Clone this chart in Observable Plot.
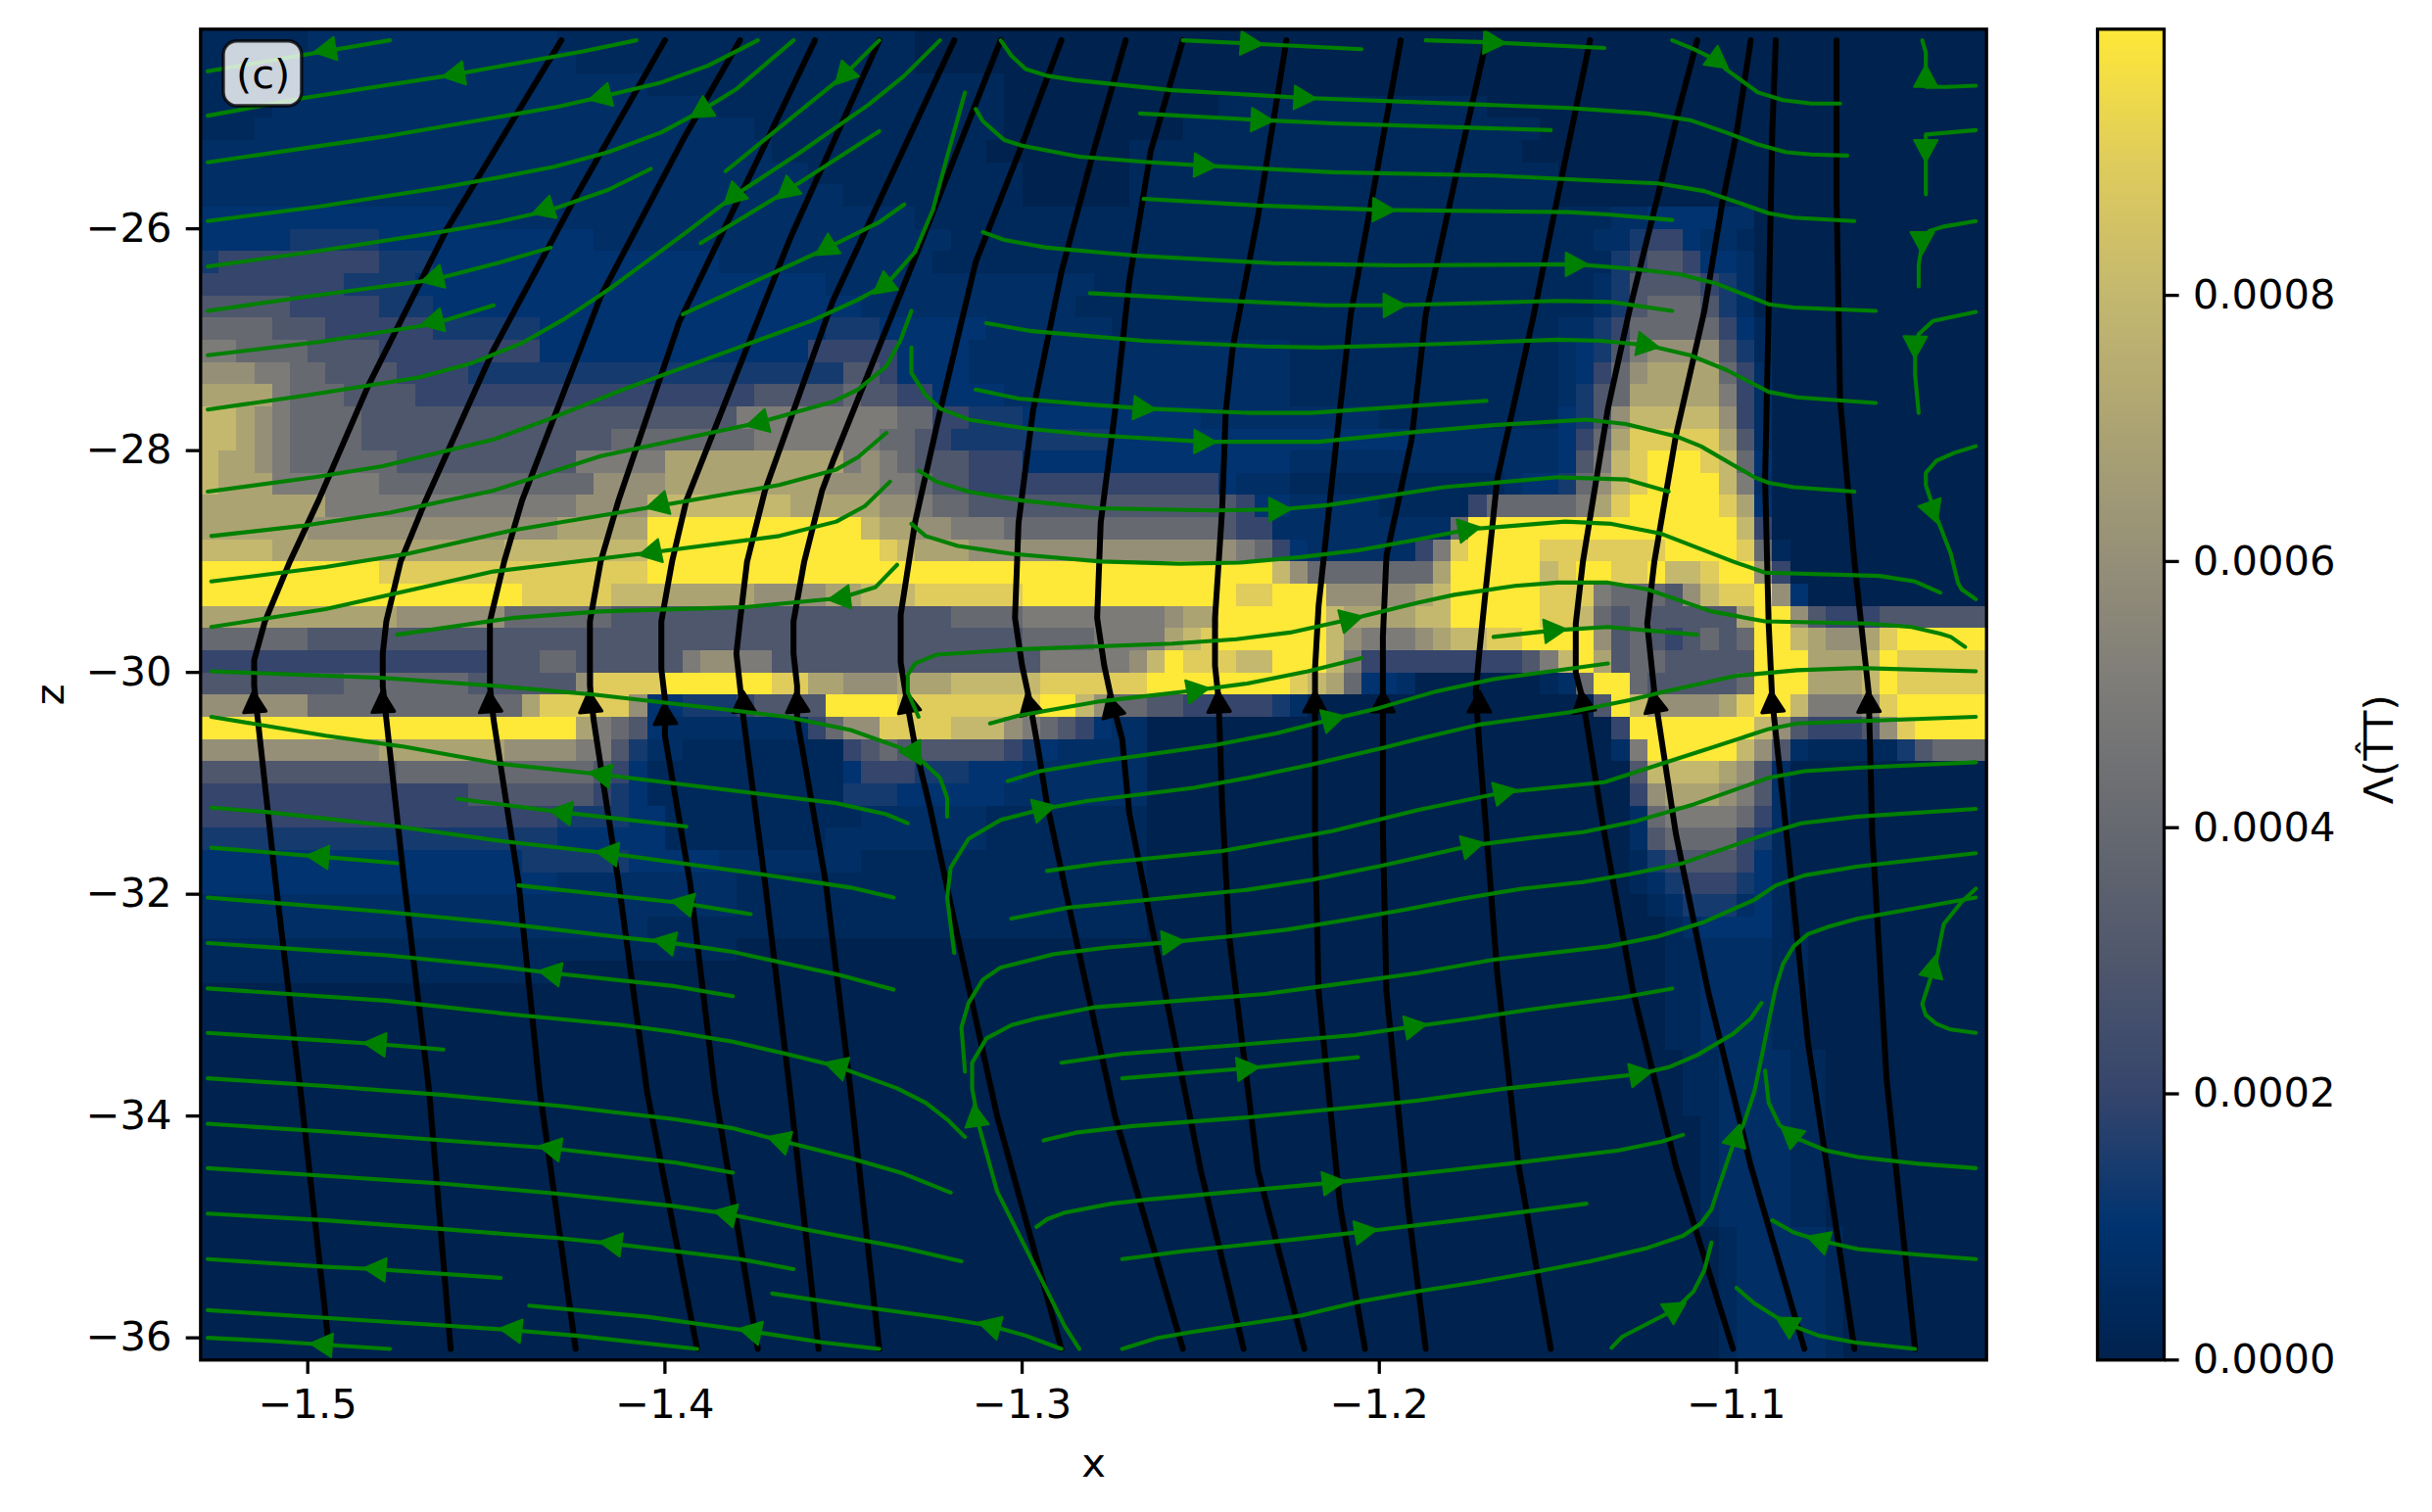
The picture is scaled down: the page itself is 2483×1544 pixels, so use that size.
<!DOCTYPE html>
<html>
<head>
<meta charset="utf-8">
<script src="https://cdn.jsdelivr.net/npm/d3@7"></script>
<script src="https://cdn.jsdelivr.net/npm/@observablehq/plot@0.6"></script>
<style>
html,body{margin:0;padding:0;background:#fff;}
#fig{position:relative;width:2483px;height:1544px;overflow:hidden;}
#fig svg{position:absolute;top:0;}
</style>
</head>
<body>
<div id="fig"></div>
<script>
// Axis extents and ticks
const xExtent = [-1.53, -1.03];
const zExtent = [-36.2, -24.2];
const xTicks = [-1.5, -1.4, -1.3, -1.2, -1.1];
const zTicks = [-26, -28, -30, -32, -34, -36];
const barTicks = [0, 0.0002, 0.0004, 0.0006, 0.0008];
const barMax = 0.001;

// Colour stops of the scale
const stopValues = [0, .0001, .0002, .0003, .0004, .0005, .0006, .0007, .0008, .0009, .001];
const stopColors = ["#00224e", "#00336f", "#35456c", "#4f576c", "#666970", "#7c7b78", "#958f78", "#aca373", "#c4b86f", "#dfcc5c", "#fee838"];

// Heat values as read, one run-length row per z step (first char = level, rest = run of cells)
const levelValues = {"0":0, a:.00004, b:.00007, c:.0001, "1":.00014, "2":.0002, "3":.0003, "4":.0004, "5":.0005, "6":.0006, "7":.0007, "8":.0008, "9":.0009, A:.001};
const heatRows = [
"a6 b14 a20 060",
"a5 b16 a19 060",
"a5 b20 a20 055",
"a4 b24 a17 012 a15 028",
"a3 b28 a14 010 a20 025",
"b32 a12 08 a22 026",
"b34 a12 06 a24 024",
"b36 a10 06 a24 024",
"c14 b26 a36 a3 b2 c4 b2 013",
"c5 15 c12 b20 a36 b2 11 22 c1 b2 a1 013",
"11 29 13 c16 b12 a38 11 21 32 21 c2 b1 013",
"28 14 c23 b15 a28 b1 11 34 21 11 b1 013",
"35 25 13 c24 b12 a28 a1 b1 11 31 43 31 11 b1 013",
"44 33 26 16 c16 13 c6 b7 a25 b2 11 21 45 21 c1 a1 012",
"52 44 34 29 c15 25 c4 b18 a15 b1 c1 11 31 51 64 31 11 a1 012",
"63 52 42 34 24 121 32 21 c4 b18 a15 b1 c1 21 41 61 74 41 21 b1 012",
"74 51 43 34 219 35 41 32 22 c4 b16 a15 b1 11 31 41 75 51 21 b1 012",
"82 71 61 51 44 321 59 42 22 13 c10 b10 a10 c1 11 31 61 85 61 21 b1 012",
"82 71 61 51 44 314 48 57 42 31 21 19 c17 b8 c1 21 41 71 95 71 31 b1 012",
"81 72 61 51 46 310 55 710 51 61 51 41 33 23 c15 b15 c1 31 51 81 91 A3 91 81 41 c1 012",
"81 73 56 412 64 79 63 52 41 32 214 c1 b3 a12 b1 c2 11 41 61 81 91 A4 81 51 b1 012",
"77 514 64 88 75 62 51 42 315 21 c2 b5 a5 21 45 51 71 91 A5 91 71 c1 012",
"76 614 75 A12 81 72 62 53 412 31 22 b10 41 A15 81 21 012",
"84 713 88 A13 91 81 73 615 51 41 21 c1 b6 21 51 91 A4 97 A4 91 41 a1 011",
"A10 915 A35 81 61 47 71 A5 81 91 A2 92 A1 82 91 A2 61 21 011",
"A18 95 83 75 64 72 83 96 A12 92 A3 65 71 81 A5 93 51 43 31 61 81 92 A1 61 c1 010",
"711 66 46 314 35 44 58 61 72 A6 81 74 82 A5 92 81 41 31 41 35 71 A2 61 31 23 36",
"46 340 44 54 71 81 91 A6 81 61 53 61 71 82 92 A4 61 31 41 31 21 31 41 31 41 A2 81 71 62 71 91 A5",
"216 33 42 36 51 62 52 315 55 61 81 A1 93 82 A3 81 51 29 31 51 81 A1 71 31 42 35 A3 73 81 A1 95",
"38 47 36 61 94 A6 92 72 63 73 85 96 A8 91 81 71 41 c2 b1 07 a1 b1 41 A2 41 35 41 A3 73 81 A1 95",
"66 412 71 95 61 c2 13 21 34 A4 98 A2 81 61 42 32 25 11 b1 016 31 A1 81 64 71 91 A2 81 53 61 91 A5",
"A21 71 51 41 31 c1 b8 21 41 62 94 83 61 51 41 31 21 c1 b2 026 21 A7 81 61 31 23 31 61 91 A4",
"610 77 64 52 31 11 b2 a9 21 31 41 36 21 11 c1 b5 026 b1 51 A5 81 61 31 b1 a5 11 31 43",
"311 411 31 21 c1 a11 c1 23 13 c3 b7 027 31 84 71 61 31 b1 011",
"215 37 21 11 c1 a11 13 c6 b8 027 21 61 73 61 51 31 b1 011",
"220 14 c2 a11 b7 a9 027 b1 41 54 41 21 b1 011",
"120 c6 a9 b9 a9 027 b1 31 44 21 11 a1 011",
"c18 16 c5 b8 a16 027 a1 11 21 33 21 c1 a1 011",
"c20 b10 a23 027 a1 b1 11 23 11 c1 a1 011",
"b30 a23 028 a1 b1 13 b1 c1 a1 011",
"b25 a28 029 a1 b1 c4 a1 011",
"a30 052 a2 b4 a2 010",
"a20 062 a2 b4 a2 010",
"082 a2 b4 a2 010",
"082 a2 b4 a2 010",
"082 a2 b4 a2 010",
"083 a2 b4 a2 09",
"083 a2 b4 a2 09",
"083 a2 b4 a2 09",
"084 a1 b4 a2 09",
"084 a1 b4 a2 09",
"084 a1 b4 a2 09",
"084 a1 b4 a2 09",
"084 a1 b4 a2 09",
"085 a1 b5 a1 08",
"085 a1 b5 a1 08",
"085 a1 b5 a1 08",
"085 a1 b5 a1 08",
"085 a1 b5 a1 08",
"085 a1 b5 a1 08"
];
const heatCols = 100;

// Black field lines, as x,z pairs
const fieldLines = [
[-1.429,-24.30,-1.461,-26.00,-1.483,-27.41,-1.497,-28.45,-1.505,-29.00,-1.512,-29.54,-1.515,-29.89,-1.515,-30.12,-1.514,-30.42,-1.509,-31.89,-1.502,-33.78,-1.494,-36.10],
[-1.400,-24.30,-1.426,-25.77,-1.448,-27.09,-1.467,-28.45,-1.474,-29.00,-1.478,-29.54,-1.479,-29.83,-1.479,-30.12,-1.478,-30.42,-1.473,-31.89,-1.466,-33.78,-1.460,-36.10],
[-1.379,-24.30,-1.395,-25.20,-1.418,-26.61,-1.440,-28.45,-1.445,-29.00,-1.449,-29.54,-1.449,-29.83,-1.449,-30.12,-1.448,-30.42,-1.441,-31.89,-1.435,-33.78,-1.425,-36.10],
[-1.358,-24.30,-1.375,-25.44,-1.396,-26.84,-1.413,-28.45,-1.418,-29.00,-1.421,-29.54,-1.421,-29.83,-1.421,-30.12,-1.420,-30.42,-1.413,-31.89,-1.405,-33.78,-1.391,-36.10],
[-1.340,-24.30,-1.365,-26.09,-1.394,-28.45,-1.398,-29.00,-1.401,-29.54,-1.401,-29.83,-1.401,-29.97,-1.400,-30.24,-1.400,-30.57,-1.393,-31.89,-1.386,-33.78,-1.374,-36.10],
[-1.319,-24.30,-1.353,-26.65,-1.372,-28.36,-1.377,-29.00,-1.379,-29.54,-1.380,-29.83,-1.379,-30.12,-1.378,-30.42,-1.372,-31.89,-1.365,-33.78,-1.357,-36.10],
[-1.306,-24.30,-1.329,-26.18,-1.353,-28.10,-1.356,-28.36,-1.361,-29.00,-1.364,-29.54,-1.364,-29.83,-1.363,-30.12,-1.363,-30.42,-1.355,-31.89,-1.348,-33.78,-1.340,-36.10],
[-1.289,-24.30,-1.300,-25.24,-1.313,-26.30,-1.323,-27.65,-1.330,-28.65,-1.334,-29.48,-1.334,-29.91,-1.332,-30.31,-1.330,-30.66,-1.326,-31.19,-1.318,-32.39,-1.307,-34.00,-1.289,-36.10],
[-1.271,-24.30,-1.280,-25.30,-1.289,-26.39,-1.297,-27.65,-1.301,-28.65,-1.302,-29.51,-1.300,-29.94,-1.298,-30.24,-1.296,-30.60,-1.293,-31.19,-1.285,-32.39,-1.274,-34.00,-1.255,-36.10],
[-1.255,-24.30,-1.264,-25.30,-1.270,-26.47,-1.274,-27.65,-1.278,-28.65,-1.279,-29.51,-1.277,-29.94,-1.275,-30.24,-1.272,-30.60,-1.270,-31.27,-1.262,-32.56,-1.250,-34.49,-1.238,-36.10],
[-1.226,-24.30,-1.234,-25.89,-1.241,-27.06,-1.243,-27.65,-1.244,-28.53,-1.246,-29.51,-1.246,-29.94,-1.245,-30.24,-1.244,-31.19,-1.242,-32.39,-1.234,-34.49,-1.221,-36.10],
[-1.194,-24.30,-1.201,-25.54,-1.208,-26.77,-1.212,-27.91,-1.214,-28.50,-1.217,-29.40,-1.218,-29.97,-1.218,-31.45,-1.217,-32.88,-1.211,-34.81,-1.204,-36.10],
[-1.170,-24.30,-1.178,-25.44,-1.187,-26.77,-1.191,-27.91,-1.198,-28.95,-1.199,-29.68,-1.199,-30.21,-1.199,-31.45,-1.198,-32.88,-1.192,-34.81,-1.187,-36.10],
[-1.141,-24.30,-1.150,-25.70,-1.157,-26.81,-1.167,-28.26,-1.170,-29.19,-1.172,-29.82,-1.173,-30.18,-1.172,-30.66,-1.170,-31.45,-1.167,-32.71,-1.161,-34.45,-1.152,-36.10],
[-1.111,-24.30,-1.117,-25.03,-1.122,-25.70,-1.130,-26.74,-1.136,-27.62,-1.143,-29.00,-1.145,-29.56,-1.145,-30.00,-1.143,-30.25,-1.137,-31.45,-1.129,-32.87,-1.117,-34.45,-1.101,-36.10],
[-1.096,-24.30,-1.100,-25.14,-1.104,-25.77,-1.109,-26.74,-1.117,-27.87,-1.123,-29.00,-1.125,-29.56,-1.123,-30.18,-1.117,-31.45,-1.108,-32.87,-1.096,-34.45,-1.081,-36.10],
[-1.089,-24.30,-1.090,-25.14,-1.091,-26.74,-1.092,-28.26,-1.091,-29.56,-1.090,-30.25,-1.086,-31.45,-1.080,-33.34,-1.074,-34.60,-1.067,-36.10],
[-1.072,-24.30,-1.072,-25.70,-1.071,-27.54,-1.067,-29.00,-1.063,-30.18,-1.062,-31.45,-1.058,-33.66,-1.050,-36.10]
];
// Black arrows: x, z, heading in degrees (0 = up)
const fieldArrows = [
[-1.515,-30.27,-4],[-1.479,-30.27,-3],[-1.449,-30.27,-4],[-1.421,-30.27,-5],[-1.400,-30.38,-3],[-1.378,-30.27,-3],[-1.363,-30.27,-4],[-1.332,-30.27,-10],[-1.298,-30.29,-13],[-1.275,-30.31,-15],[-1.245,-30.27,-3],[-1.218,-30.27,0],[-1.199,-30.27,0],[-1.172,-30.27,0],[-1.143,-30.27,-9],[-1.123,-30.27,-10],[-1.090,-30.27,-5],[-1.063,-30.27,-2]
];

// Green flow lines, as x,z pairs
const flowLines = [
[-1.477,-24.30,-1.497,-24.41,-1.528,-24.58],
[-1.408,-24.30,-1.423,-24.40,-1.461,-24.62,-1.501,-24.82,-1.528,-24.98],
[-1.374,-24.30,-1.388,-24.53,-1.401,-24.68,-1.418,-24.81,-1.430,-24.90,-1.479,-25.17,-1.528,-25.40],
[-1.364,-24.30,-1.380,-24.74,-1.390,-24.94,-1.401,-25.13,-1.416,-25.31,-1.431,-25.44,-1.447,-25.54,-1.463,-25.63,-1.497,-25.80,-1.528,-25.93],
[-1.404,-25.46,-1.416,-25.65,-1.432,-25.83,-1.447,-25.94,-1.463,-26.03,-1.497,-26.20,-1.528,-26.34],
[-1.432,-26.17,-1.447,-26.31,-1.465,-26.46,-1.500,-26.61,-1.528,-26.74],
[-1.448,-26.69,-1.465,-26.86,-1.497,-27.02,-1.528,-27.14],
[-1.323,-24.30,-1.333,-24.62,-1.343,-24.88,-1.363,-25.33,-1.381,-25.71,-1.394,-26.03,-1.415,-26.53,-1.428,-26.81,-1.440,-27.03,-1.454,-27.21,-1.469,-27.34,-1.500,-27.50,-1.528,-27.63],
[-1.340,-24.30,-1.350,-24.62,-1.383,-25.48],
[-1.340,-25.12,-1.366,-25.66,-1.390,-26.13],
[-1.333,-25.78,-1.340,-25.94,-1.355,-26.18,-1.395,-26.77],
[-1.316,-24.77,-1.321,-25.35,-1.325,-25.83,-1.330,-26.21,-1.338,-26.50,-1.346,-26.64,-1.359,-26.83,-1.376,-27.03,-1.411,-27.44,-1.432,-27.71,-1.448,-27.90,-1.479,-28.14,-1.498,-28.24,-1.528,-28.37],
[-1.331,-26.74,-1.334,-27.00,-1.338,-27.24,-1.346,-27.45,-1.353,-27.56,-1.374,-27.75,-1.418,-28.05,-1.448,-28.36,-1.477,-28.56,-1.502,-28.68,-1.527,-28.77],
[-1.338,-27.84,-1.346,-28.06,-1.352,-28.17,-1.368,-28.31,-1.404,-28.51,-1.443,-28.72,-1.472,-28.93,-1.495,-29.05,-1.527,-29.18],
[-1.337,-28.28,-1.344,-28.50,-1.352,-28.64,-1.368,-28.77,-1.404,-28.92,-1.448,-29.09,-1.473,-29.27,-1.495,-29.43,-1.527,-29.59],
[-1.335,-29.03,-1.341,-29.23,-1.351,-29.33,-1.377,-29.41,-1.418,-29.45,-1.443,-29.51,-1.475,-29.66],
[-1.321,-31.30,-1.321,-31.13,-1.323,-30.95,-1.328,-30.80,-1.334,-30.68,-1.348,-30.52,-1.366,-30.40,-1.379,-30.35,-1.420,-30.20,-1.448,-30.12,-1.479,-30.05,-1.527,-29.99],
[-1.332,-31.36,-1.338,-31.28,-1.352,-31.18,-1.385,-31.05,-1.418,-30.92,-1.447,-30.82,-1.473,-30.67,-1.495,-30.57,-1.527,-30.40],
[-1.394,-31.39,-1.429,-31.26,-1.458,-31.14],
[-1.336,-32.03,-1.348,-31.94,-1.373,-31.82,-1.398,-31.71,-1.416,-31.63,-1.446,-31.52,-1.475,-31.39,-1.511,-31.26,-1.527,-31.22],
[-1.475,-31.72,-1.497,-31.66,-1.527,-31.58],
[-1.376,-32.18,-1.395,-32.08,-1.412,-32.02,-1.441,-31.92],
[-1.336,-32.86,-1.351,-32.73,-1.381,-32.52,-1.400,-32.43,-1.412,-32.39,-1.446,-32.26,-1.478,-32.16,-1.528,-32.03],
[-1.381,-32.92,-1.397,-32.83,-1.432,-32.71,-1.447,-32.65,-1.478,-32.55,-1.528,-32.44],
[-1.316,-34.19,-1.321,-34.03,-1.327,-33.88,-1.335,-33.75,-1.352,-33.55,-1.366,-33.44,-1.381,-33.33,-1.398,-33.24,-1.412,-33.18,-1.444,-33.08,-1.478,-32.96,-1.528,-32.85],
[-1.462,-33.40,-1.481,-33.35,-1.495,-33.32,-1.528,-33.25],
[-1.320,-34.69,-1.334,-34.51,-1.348,-34.38,-1.368,-34.22,-1.381,-34.11,-1.397,-34.03,-1.429,-33.91,-1.462,-33.81,-1.495,-33.73,-1.528,-33.66],
[-1.381,-34.51,-1.397,-34.42,-1.432,-34.29,-1.462,-34.22,-1.495,-34.14,-1.528,-34.07],
[-1.317,-35.31,-1.333,-35.19,-1.361,-35.02,-1.383,-34.88,-1.398,-34.81,-1.430,-34.70,-1.462,-34.61,-1.495,-34.54,-1.528,-34.47],
[-1.364,-35.38,-1.379,-35.29,-1.397,-35.22,-1.415,-35.15,-1.430,-35.10,-1.462,-35.02,-1.495,-34.94,-1.528,-34.88],
[-1.446,-35.46,-1.481,-35.38,-1.495,-35.36,-1.528,-35.29],
[-1.391,-36.10,-1.425,-35.98,-1.443,-35.93,-1.461,-35.89,-1.495,-35.82,-1.528,-35.75],
[-1.477,-36.10,-1.496,-36.06,-1.510,-36.03,-1.528,-36.00],
[-1.340,-36.10,-1.356,-36.04,-1.376,-35.94,-1.405,-35.81,-1.438,-35.71],
[-1.289,-36.10,-1.299,-35.98,-1.309,-35.89,-1.322,-35.82,-1.345,-35.72,-1.370,-35.60],
[-1.255,-24.30,-1.236,-24.33,-1.205,-24.38],
[-1.187,-24.30,-1.168,-24.32,-1.137,-24.37],
[-1.306,-24.30,-1.303,-24.44,-1.299,-24.56,-1.293,-24.62,-1.285,-24.66,-1.258,-24.75,-1.221,-24.82,-1.147,-24.91,-1.125,-24.96,-1.113,-25.02,-1.103,-25.13,-1.094,-25.24,-1.086,-25.31,-1.079,-25.33,-1.069,-25.34],
[-1.267,-24.96,-1.233,-25.02,-1.213,-25.05,-1.152,-25.11],
[-1.313,-24.92,-1.311,-25.03,-1.305,-25.20,-1.300,-25.25,-1.284,-25.35,-1.264,-25.40,-1.249,-25.43,-1.213,-25.49,-1.168,-25.52,-1.136,-25.57,-1.122,-25.59,-1.109,-25.66,-1.098,-25.78,-1.091,-25.86,-1.084,-25.90,-1.067,-25.93],
[-1.266,-25.73,-1.234,-25.79,-1.199,-25.83,-1.147,-25.85,-1.136,-25.87,-1.118,-25.92],
[-1.311,-26.03,-1.305,-26.10,-1.293,-26.17,-1.269,-26.24,-1.230,-26.31,-1.195,-26.33,-1.145,-26.32,-1.129,-26.36,-1.116,-26.41,-1.106,-26.49,-1.098,-26.59,-1.091,-26.68,-1.084,-26.71,-1.061,-26.74],
[-1.281,-26.58,-1.248,-26.64,-1.215,-26.69,-1.196,-26.69,-1.150,-26.65,-1.135,-26.66,-1.118,-26.74],
[-1.310,-26.85,-1.298,-26.92,-1.266,-27.01,-1.233,-27.06,-1.216,-27.07,-1.185,-27.04,-1.150,-27.00,-1.138,-27.01,-1.125,-27.05,-1.113,-27.14,-1.103,-27.27,-1.091,-27.47,-1.083,-27.52,-1.061,-27.57],
[-1.313,-27.45,-1.301,-27.53,-1.283,-27.58,-1.266,-27.62,-1.236,-27.66,-1.219,-27.66,-1.170,-27.55],
[-1.331,-27.07,-1.331,-27.30,-1.327,-27.50,-1.323,-27.62,-1.315,-27.72,-1.299,-27.80,-1.280,-27.86,-1.249,-27.92,-1.217,-27.92,-1.189,-27.83,-1.168,-27.77,-1.142,-27.72,-1.131,-27.76,-1.117,-27.87,-1.110,-27.96,-1.095,-28.24,-1.091,-28.29,-1.084,-28.33,-1.067,-28.37],
[-1.329,-28.18,-1.324,-28.28,-1.315,-28.37,-1.300,-28.45,-1.279,-28.52,-1.246,-28.54,-1.228,-28.53,-1.214,-28.49,-1.182,-28.33,-1.150,-28.24,-1.131,-28.26,-1.119,-28.37],
[-1.331,-28.66,-1.327,-28.77,-1.318,-28.86,-1.303,-28.93,-1.278,-29.00,-1.256,-29.02,-1.239,-29.01,-1.222,-28.96,-1.206,-28.90,-1.189,-28.80,-1.175,-28.71,-1.148,-28.64,-1.135,-28.66,-1.121,-28.75,-1.101,-29.00,-1.092,-29.10,-1.060,-29.13,-1.050,-29.18,-1.043,-29.28],
[-1.329,-30.40,-1.332,-30.18,-1.332,-30.02,-1.330,-29.92,-1.324,-29.84,-1.300,-29.79,-1.258,-29.74,-1.240,-29.70,-1.225,-29.64,-1.208,-29.52,-1.189,-29.37,-1.179,-29.30,-1.162,-29.22,-1.150,-29.19,-1.136,-29.19,-1.125,-29.25,-1.107,-29.45,-1.092,-29.54,-1.063,-29.56,-1.051,-29.59,-1.043,-29.65,-1.040,-29.68,-1.036,-29.77],
[-1.309,-30.46,-1.301,-30.39,-1.278,-30.26,-1.251,-30.16,-1.237,-30.10,-1.220,-29.99,-1.205,-29.87],
[-1.304,-30.98,-1.295,-30.89,-1.278,-30.80,-1.247,-30.66,-1.229,-30.55,-1.213,-30.42,-1.200,-30.32,-1.184,-30.17,-1.168,-30.06,-1.136,-29.92],
[-1.319,-32.53,-1.321,-32.03,-1.320,-31.76,-1.315,-31.50,-1.306,-31.33,-1.294,-31.23,-1.282,-31.16,-1.252,-31.04,-1.235,-30.94,-1.219,-30.83,-1.199,-30.68,-1.189,-30.60,-1.172,-30.47,-1.147,-30.36,-1.130,-30.25,-1.121,-30.18,-1.100,-30.03,-1.083,-29.98,-1.066,-29.96,-1.033,-29.99],
[-1.293,-31.79,-1.278,-31.72,-1.244,-31.61,-1.213,-31.43,-1.189,-31.24,-1.165,-31.08,-1.137,-30.99,-1.110,-30.71,-1.091,-30.51,-1.083,-30.46,-1.033,-30.40],
[-1.303,-32.22,-1.287,-32.12,-1.268,-32.06,-1.237,-31.96,-1.219,-31.87,-1.199,-31.74,-1.174,-31.56,-1.157,-31.49,-1.143,-31.44,-1.128,-31.34,-1.112,-31.19,-1.091,-30.95,-1.081,-30.89,-1.066,-30.86,-1.033,-30.81],
[-1.316,-33.60,-1.317,-33.20,-1.315,-32.98,-1.311,-32.77,-1.306,-32.66,-1.291,-32.54,-1.276,-32.48,-1.258,-32.43,-1.242,-32.38,-1.226,-32.32,-1.209,-32.23,-1.193,-32.14,-1.177,-32.04,-1.160,-31.95,-1.143,-31.89,-1.130,-31.82,-1.115,-31.72,-1.108,-31.64,-1.091,-31.45,-1.082,-31.36,-1.066,-31.30,-1.033,-31.23],
[-1.284,-36.10,-1.288,-35.90,-1.299,-35.19,-1.307,-34.68,-1.312,-34.10,-1.314,-33.75,-1.314,-33.52,-1.310,-33.30,-1.303,-33.18,-1.296,-33.12,-1.280,-33.02,-1.264,-32.98,-1.232,-32.90,-1.216,-32.83,-1.189,-32.71,-1.168,-32.59,-1.136,-32.47,-1.122,-32.38,-1.109,-32.25,-1.095,-32.05,-1.089,-31.92,-1.081,-31.83,-1.066,-31.75,-1.033,-31.63],
[-1.289,-33.52,-1.272,-33.44,-1.240,-33.36,-1.207,-33.27,-1.190,-33.19,-1.174,-33.12,-1.158,-33.04,-1.132,-32.93,-1.118,-32.85],
[-1.272,-33.66,-1.237,-33.57,-1.222,-33.52,-1.206,-33.47],
[-1.294,-34.22,-1.285,-34.15,-1.269,-34.09,-1.236,-34.01,-1.204,-33.91,-1.189,-33.86,-1.164,-33.75,-1.138,-33.66,-1.127,-33.62,-1.119,-33.56,-1.111,-33.45,-1.101,-33.26,-1.096,-33.12,-1.093,-32.98],
[-1.296,-35.00,-1.293,-34.93,-1.288,-34.87,-1.275,-34.79,-1.264,-34.75,-1.233,-34.66,-1.213,-34.60,-1.189,-34.52,-1.164,-34.43,-1.133,-34.31,-1.121,-34.23,-1.115,-34.17],
[-1.272,-35.29,-1.255,-35.22,-1.223,-35.11,-1.204,-35.04,-1.173,-34.92,-1.142,-34.79],
[-1.272,-36.10,-1.262,-36.00,-1.253,-35.95,-1.222,-35.80,-1.205,-35.67,-1.189,-35.58,-1.173,-35.50,-1.157,-35.41,-1.141,-35.31,-1.125,-35.19,-1.115,-35.08,-1.110,-34.97,-1.107,-34.84,-1.105,-34.64,-1.101,-34.26,-1.098,-34.07,-1.095,-33.78,-1.093,-33.47,-1.091,-33.15,-1.089,-32.84,-1.087,-32.63,-1.084,-32.47,-1.080,-32.36,-1.074,-32.29,-1.066,-32.22,-1.033,-32.03],
[-1.033,-31.95,-1.037,-32.07,-1.042,-32.27,-1.044,-32.59,-1.048,-32.99,-1.047,-33.09,-1.044,-33.17,-1.040,-33.22,-1.033,-33.25],
[-1.092,-33.59,-1.091,-33.88,-1.088,-34.08,-1.084,-34.19,-1.075,-34.31,-1.066,-34.37,-1.049,-34.43,-1.033,-34.47],
[-1.090,-34.94,-1.084,-35.05,-1.077,-35.12,-1.066,-35.20,-1.049,-35.25,-1.033,-35.29],
[-1.135,-36.09,-1.132,-35.99,-1.117,-35.74,-1.112,-35.58,-1.109,-35.39,-1.107,-35.14],
[-1.100,-35.55,-1.095,-35.69,-1.086,-35.87,-1.077,-35.98,-1.067,-36.04,-1.050,-36.10],
[-1.048,-24.30,-1.047,-24.41,-1.047,-24.65,-1.047,-24.72,-1.041,-24.72,-1.033,-24.71],
[-1.033,-25.11,-1.047,-25.15,-1.047,-25.21,-1.047,-25.30,-1.047,-25.69],
[-1.033,-25.93,-1.042,-25.98,-1.046,-26.02,-1.048,-26.12,-1.049,-26.33,-1.049,-26.52],
[-1.033,-26.75,-1.045,-26.83,-1.049,-26.95,-1.050,-27.06,-1.050,-27.32,-1.049,-27.66],
[-1.033,-27.96,-1.039,-28.02,-1.044,-28.09,-1.047,-28.20,-1.047,-28.31,-1.044,-28.60,-1.040,-28.93,-1.038,-29.19,-1.037,-29.25,-1.033,-29.34],
[-1.168,-29.68,-1.151,-29.62,-1.136,-29.59,-1.111,-29.66],
[-1.118,-24.30,-1.112,-24.38,-1.105,-24.49,-1.103,-24.56,-1.094,-24.77,-1.087,-24.84,-1.079,-24.87,-1.071,-24.87]
];
// Green arrows: x, z, heading in degrees (0 = up, 90 = towards +x)
const flowArrows = [
[-1.495,-24.39,-100],[-1.459,-24.61,-100],[-1.418,-24.81,-104],[-1.390,-24.94,-122],[-1.434,-25.83,-108],[-1.465,-26.45,-104],[-1.465,-26.84,-103],
[-1.381,-25.71,-133],[-1.350,-24.62,-137],[-1.366,-25.66,-130],[-1.355,-26.18,-122],[-1.339,-26.52,-128],[-1.374,-27.75,-104],[-1.402,-28.49,-104],[-1.404,-28.92,-102],[-1.351,-29.33,-97],
[-1.330,-30.74,150],[-1.418,-30.92,-80],[-1.429,-31.26,-82],[-1.416,-31.63,-82],[-1.497,-31.66,-85],[-1.395,-32.08,-78],[-1.400,-32.43,-78],[-1.432,-32.71,-80],[-1.352,-33.55,-73],[-1.481,-33.35,-85],[-1.368,-34.22,-73],[-1.432,-34.29,-80],[-1.383,-34.88,-77],[-1.415,-35.15,-82],[-1.481,-35.38,-85],[-1.443,-35.93,-83],[-1.496,-36.06,-85],[-1.376,-35.94,-78],[-1.309,-35.89,-75],
[-1.236,-24.33,94],[-1.168,-24.32,93],[-1.221,-24.82,93],[-1.233,-25.02,93],[-1.249,-25.43,93],[-1.199,-25.83,92],[-1.145,-26.32,90],[-1.196,-26.69,89],[-1.125,-27.05,100],[-1.266,-27.62,95],[-1.249,-27.92,91],[-1.228,-28.53,89],[-1.175,-28.71,80],[-1.208,-29.52,76],[-1.251,-30.16,80],[-1.213,-30.42,75],[-1.294,-31.23,76],[-1.165,-31.08,78],[-1.174,-31.56,77],[-1.258,-32.43,84],[-1.313,-34.00,-8],[-1.190,-33.19,80],[-1.237,-33.57,84],[-1.127,-33.62,80],[-1.213,-34.60,83],[-1.204,-35.04,81],[-1.100,-34.18,15],[-1.045,-32.66,12],[-1.085,-34.16,-50],[-1.077,-35.12,-72],[-1.117,-35.74,58],[-1.086,-35.87,-60],[-1.047,-24.63,0],[-1.047,-25.29,180],[-1.048,-26.12,180],[-1.050,-27.06,181],[-1.045,-28.55,160],[-1.151,-29.62,84],[-1.105,-24.49,127]
];

const panelLabel = "(c)";
const panelBox = {x1:-1.5235, x2:-1.5016, y1:-24.31, y2:-24.895};
const panelLabelAt = {x:-1.5125, z:-24.61};
const xLabel = "x";
const zLabel = "z";
const barLabel = "Λ(T̂T)";

// ---- decode ----
const heatValues = [];
for (const row of heatRows) {
  const cells = [];
  for (const tok of row.split(" ")) {
    const v = levelValues[tok[0]];
    const n = +tok.slice(1);
    for (let i = 0; i < n; ++i) cells.push(v);
  }
  while (cells.length < heatCols) cells.push(cells[cells.length - 1]);
  cells.length = heatCols;
  heatValues.push(...cells);
}
function pairs(lines) {
  const out = [];
  lines.forEach((l, id) => { for (let i = 0; i < l.length; i += 2) out.push({id, x:l[i], z:l[i+1]}); });
  return out;
}
const arrowRows = a => a.map(([x, z, h]) => ({x, z, h}));

const FONT = 41.67, TICK = 14.6, SPINE = 3.3;
const colorOpts = {type:"linear", domain:stopValues, range:stopColors, clamp:true};
const arrowHead = {draw(ctx, size) {
  const r = Math.sqrt(size / Math.PI);
  ctx.moveTo(0, -r);
  ctx.lineTo(r, r * 0.85);
  ctx.lineTo(-r, r * 0.85);
  ctx.closePath();
}};

const main = Plot.plot({
  width: 2100, height: 1544,
  marginLeft: 204.3, marginRight: 72.3, marginTop: 29.3, marginBottom: 155.7,
  style: {fontFamily: "'DejaVu Sans'", fontSize: FONT + "px", background: "transparent", color: "black"},
  x: {domain: xExtent},
  y: {domain: zExtent},
  color: colorOpts,
  marks: [
    Plot.raster(heatValues, {width: heatCols, height: heatRows.length, x1: xExtent[0], x2: xExtent[1], y1: zExtent[1], y2: zExtent[0], imageRendering: "pixelated"}),
    Plot.line(pairs(fieldLines), {x: "x", y: "z", z: "id", stroke: "black", strokeWidth: 6, strokeLinejoin: "round"}),
    Plot.dot(arrowRows(fieldArrows), {x: "x", y: "z", rotate: "h", symbol: arrowHead, r: 11.5, fill: "black", stroke: "black", strokeWidth: 3, strokeLinejoin: "round"}),
    Plot.line(pairs(flowLines), {x: "x", y: "z", z: "id", stroke: "green", strokeWidth: 4.1, strokeLinejoin: "round"}),
    Plot.dot(arrowRows(flowArrows), {x: "x", y: "z", rotate: "h", symbol: arrowHead, r: 12, fill: "green", stroke: "green", strokeWidth: 2, strokeLinejoin: "round"}),
    Plot.rect([panelBox], {x1: "x1", x2: "x2", y1: "y1", y2: "y2", rx: 14, fill: "white", fillOpacity: 0.8, stroke: "black", strokeOpacity: 0.8, strokeWidth: SPINE}),
    Plot.text([panelLabelAt], {x: "x", y: "z", text: () => panelLabel, fontSize: FONT, fill: "black"}),
    Plot.frame({stroke: "black", strokeWidth: SPINE}),
    Plot.axisX(xTicks, {tickSize: TICK, tickPadding: TICK, strokeWidth: SPINE, tickFormat: d3.format(".1f"), fontSize: FONT, label: xLabel, labelAnchor: "center", labelArrow: "none", labelOffset: 119}),
    Plot.axisY(zTicks, {tickSize: TICK, tickPadding: TICK, strokeWidth: SPINE, tickFormat: d3.format("d"), fontSize: FONT, label: zLabel, labelAnchor: "center", labelArrow: "none", labelOffset: 169})
  ]
});
main.style.left = "0px";
document.getElementById("fig").appendChild(main);

const bar = Plot.plot({
  width: 383, height: 1544,
  marginLeft: 41, marginRight: 274, marginTop: 29.3, marginBottom: 155.7,
  style: {fontFamily: "'DejaVu Sans'", fontSize: FONT + "px", background: "transparent", color: "black"},
  x: {domain: [0, 1], axis: null},
  y: {domain: [0, barMax]},
  color: colorOpts,
  marks: [
    Plot.raster({x1: 0, x2: 1, y1: barMax, y2: 0, fill: (x, y) => y, pixelSize: 1}),
    Plot.frame({stroke: "black", strokeWidth: SPINE}),
    Plot.axisY(barTicks, {anchor: "right", tickSize: TICK, tickPadding: TICK, strokeWidth: SPINE, tickFormat: d3.format(".4f"), fontSize: FONT, label: null}),
    Plot.text([barLabel], {frameAnchor: "right", dx: 220, rotate: -90, fontSize: FONT, fill: "black"})
  ]
});
bar.style.left = "2100px";
document.getElementById("fig").appendChild(bar);
</script>
</body>
</html>
